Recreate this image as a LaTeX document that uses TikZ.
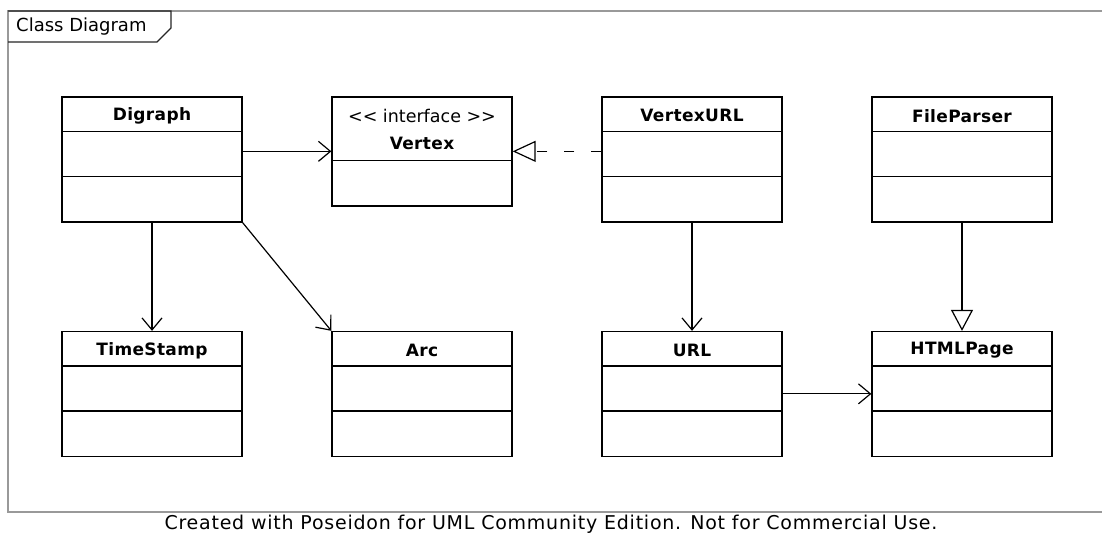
\documentclass[tikz,border=0pt]{standalone}
\usepackage{fontspec}
\setmainfont{DejaVu Sans}
\usetikzlibrary{arrows.meta}
\begin{document}
\begin{tikzpicture}[x=1pt,y=-1pt,
  classbox/.style={draw=black,line width=1.3pt,minimum width=180pt,inner sep=0pt},
  tall/.style={classbox,minimum height=125pt},
  iface/.style={classbox,minimum height=109pt},
  cname/.style={font=\fontsize{17}{19}\selectfont\bfseries\addfontfeature{LetterSpace=2}},
  stereo/.style={font=\fontsize{17.5}{19}\selectfont,inner sep=0pt},
  divider/.style={line width=1.3pt},
  assoc/.style={line width=1.2pt,-{Straight Barb[length=12pt,width=20pt,line width=1.2pt]}},
  gener/.style={line width=1.2pt,-{Triangle[open,length=21pt,width=22pt,line width=1.2pt]}},
  realiz/.style={line width=1.2pt,dash pattern=on 10pt off 17pt,-{Triangle[open,length=23pt,width=21pt,line width=1.2pt]}}
]
\useasboundingbox[fill=white] (0,0) rectangle (1102,534);
% frame
\draw[gray!80,line width=1.2pt] (1102,11) -- (8,11) -- (8,512) -- (1102,512);
\draw[black!85,line width=1.2pt] (8,11) -- (171,11) -- (171,28) -- (157,42) -- (8,42);
\node[font=\fontsize{18}{20}\selectfont,anchor=west,inner sep=0pt] (title) at (16,27) {Class Diagram};

% top row
\node[tall] (digraph) at (152,159.5) {};
\node[iface] (vertex) at (422,151.5) {};
\node[tall] (vertexurl) at (692,159.5) {};
\node[tall] (fileparser) at (962,159.5) {};
% bottom row
\node[tall] (timestamp) at (152,394) {};
\node[tall] (arc) at (422,394) {};
\node[tall] (url) at (692,394) {};
\node[tall] (htmlpage) at (962,394) {};

% dividers
\foreach \n in {digraph,vertexurl,fileparser,timestamp,arc,url,htmlpage}{
  \draw[divider] ([yshift=-35pt]\n.north west) -- ([yshift=-35pt]\n.north east);
  \draw[divider] ([yshift=-80pt]\n.north west) -- ([yshift=-80pt]\n.north east);
}
\draw[divider] ([yshift=-64pt]vertex.north west) -- ([yshift=-64pt]vertex.north east);

% names
\node[cname,inner sep=0pt] (ndigraph) at ([yshift=-19.5pt]digraph.north) {Digraph};
\node[stereo] (nstereo) at ([yshift=-19.5pt]vertex.north) {<{}< interface >{}>};
\node[cname,inner sep=0pt] (nvertex) at ([yshift=-47.5pt]vertex.north) {Vertex};
\node[cname,inner sep=0pt] (nvertexurl) at ([yshift=-19.5pt]vertexurl.north) {VertexURL};
\node[cname,inner sep=0pt] (nfileparser) at ([yshift=-19.5pt]fileparser.north) {FileParser};
\node[cname,inner sep=0pt] (ntimestamp) at ([yshift=-19.5pt]timestamp.north) {TimeStamp};
\node[cname,inner sep=0pt] (narc) at ([yshift=-19.5pt]arc.north) {Arc};
\node[cname,inner sep=0pt] (nurl) at ([yshift=-19.5pt]url.north) {URL};
\node[cname,inner sep=0pt] (nhtmlpage) at ([yshift=-19.5pt]htmlpage.north) {HTMLPage};

% connectors
\draw[assoc] ([yshift=-55pt]digraph.north east) -- ([yshift=-55pt]vertex.north west);
\draw[realiz] ([yshift=-55pt]vertexurl.north west) -- ([yshift=-55pt]vertex.north east);
\draw[assoc] (digraph.south) -- (timestamp.north);
\draw[assoc] (digraph.south east) -- (arc.north west);
\draw[assoc] (vertexurl.south) -- (url.north);
\draw[assoc] ([yshift=-63pt]url.north east) -- ([yshift=-63pt]htmlpage.north west);
\draw[gener] (fileparser.south) -- (htmlpage.north);

% footer
\node[font=\fontsize{19}{21}\selectfont\addfontfeature{LetterSpace=4},inner sep=0pt] (footer) at (551,524) {Created with Poseidon for UML Community Edition. Not for Commercial Use.};
\end{tikzpicture}
\end{document}
